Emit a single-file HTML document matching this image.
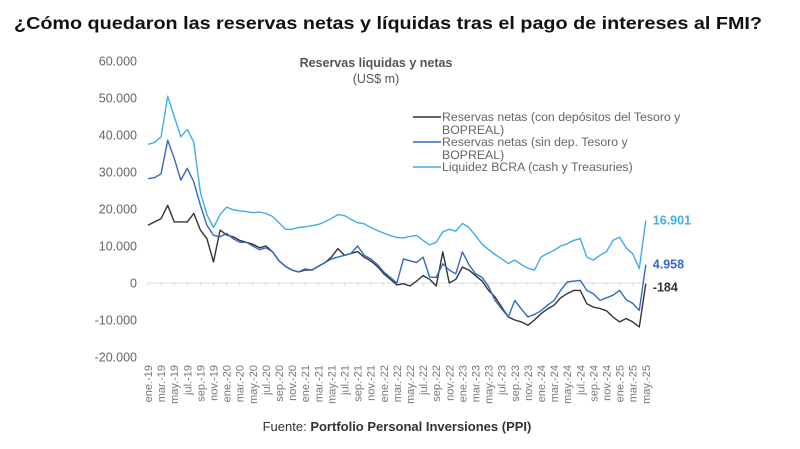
<!DOCTYPE html>
<html><head><meta charset="utf-8"><style>
body{margin:0;background:#fff;width:800px;height:444px;overflow:hidden;font-family:"Liberation Sans",sans-serif}
</style></head><body>
<svg width="800" height="444" xmlns="http://www.w3.org/2000/svg" font-family="Liberation Sans, sans-serif">
<text x="14" y="29" font-size="17.5" font-weight="bold" fill="#111" textLength="748" lengthAdjust="spacingAndGlyphs">¿Cómo quedaron las reservas netas y líquidas tras el pago de intereses al FMI?</text>
<text x="376" y="67" font-size="12.5" font-weight="bold" fill="#555" text-anchor="middle">Reservas liquidas y netas</text>
<text x="376" y="83" font-size="12.5" fill="#555" text-anchor="middle">(US$ m)</text>
<g id="yaxis"></g>
<g id="xaxis"></g>
<g id="series"></g>
<g font-size="12.3" fill="#666">
<line x1="413" y1="117" x2="441" y2="117" stroke="#333" stroke-width="1.5"/>
<text x="442" y="121">Reservas netas (con depósitos del Tesoro y</text>
<text x="442" y="134">BOPREAL)</text>
<line x1="413" y1="142" x2="441" y2="142" stroke="#3569bf" stroke-width="1.5"/>
<text x="442" y="146">Reservas netas (sin dep. Tesoro y</text>
<text x="442" y="159">BOPREAL)</text>
<line x1="413" y1="167" x2="441" y2="167" stroke="#3daeea" stroke-width="1.5"/>
<text x="442" y="171">Liquidez BCRA (cash y Treasuries)</text>
</g>
<text x="397" y="431" font-size="13" fill="#333" text-anchor="middle">Fuente: <tspan font-weight="bold">Portfolio Personal Inversiones (PPI)</tspan></text>
</svg>
<script>
const yTicks=[60000,50000,40000,30000,20000,10000,0,-10000,-20000];
const yTickLabels=["60.000","50.000","40.000","30.000","20.000","10.000","0","-10.000","-20.000"];
const xLabels=[];
const monthsAbbr=["ene.","mar.","may.","jul.","sep.","nov."];
for(let y=19;y<=25;y++)for(let i=0;i<6;i++){if(y===25&&i>2)break;xLabels.push(monthsAbbr[i]+"-"+y);}
const liquidez=[37500,38000,39500,50500,45000,39500,41500,38000,24500,18500,15000,18500,20500,19800,19500,19300,19000,19200,18800,18000,16300,14500,14500,15000,15200,15500,15800,16500,17500,18500,18200,17200,16300,16000,15000,14200,13500,12800,12300,12200,12600,12800,11500,10300,11000,13800,14500,14000,16100,15000,12800,10500,9000,7700,6500,5300,6200,5000,4000,3500,7000,8000,8800,10000,10600,11500,12000,7000,6200,7500,8500,11500,12400,9500,7900,3900,16901];
const netasSin=[28200,28500,29500,38600,33700,27800,31000,27300,21000,15600,12900,12500,13400,12000,11000,11000,10000,9000,9500,8500,6000,4500,3500,3000,3800,3500,4500,5500,6500,7000,7500,8000,10000,7500,6500,5000,3000,1500,0,6500,6000,5500,7000,1600,1500,5200,3500,2500,8400,5000,2500,1500,-1000,-4700,-7000,-9200,-4700,-7000,-9200,-8500,-7500,-6000,-4700,-2000,300,500,700,-2000,-2900,-4700,-4000,-3300,-2000,-4500,-5500,-7400,4958];
const netasCon=[15600,16500,17400,21000,16500,16500,16500,18800,14300,12000,5700,14300,13000,12500,11500,11000,10500,9500,10000,8500,6000,4500,3500,3000,3500,3500,4500,5500,7000,9300,7500,8000,8500,7000,6000,4500,2500,1000,-500,-200,-800,500,2000,1000,-800,8400,0,1000,4300,3500,2000,500,-2000,-3800,-6500,-9200,-10000,-10500,-11400,-10000,-8300,-7000,-6000,-4000,-2900,-2000,-2000,-5600,-6500,-6900,-7500,-9200,-10500,-9600,-10500,-11900,-184];
const endLabels=["16.901","4.958","-184"];
const NS="http://www.w3.org/2000/svg";
const X=m=>148+m*6.55;
const Y=v=>283-v*0.0037;
function mk(t,a,p){const e=document.createElementNS(NS,t);for(const k in a)e.setAttribute(k,a[k]);p.appendChild(e);return e;}
const ya=document.getElementById('yaxis');
yTicks.forEach((v,i)=>{const t=mk('text',{x:137,y:Y(v)+4.5,'font-size':12.5,fill:'#666','text-anchor':'end'},ya);t.textContent=yTickLabels[i];

});
const zl=mk('line',{x1:X(0),x2:X(76),y1:Y(0),y2:Y(0),stroke:'#ddd','stroke-width':1},ya);


const xa=document.getElementById('xaxis');
xLabels.forEach((l,i)=>{const x=X(i*2);
mk('line',{x1:x,x2:x,y1:Y(0),y2:Y(0)+3,stroke:'#ddd'},xa);
const t=mk('text',{x:0,y:0,'font-size':11,fill:'#777','text-anchor':'end',transform:`translate(${x+4},365) rotate(-90)`},xa);t.textContent=l;

});
const sg=document.getElementById('series');
function line(d,c,n){const p=mk('polyline',{points:d.map((v,i)=>X(i).toFixed(1)+','+Y(v).toFixed(1)).join(' '),fill:'none',stroke:c,'stroke-width':1.4,'stroke-linejoin':'round'},sg);

}
line(liquidez,'#3daeea','line-liquidez');
line(netasCon,'#333','line-netas-con-depositos');
line(netasSin,'#3569bf','line-netas-sin-depositos');
const ends=[[liquidez,'#3daeea'],[netasSin,'#3569bf'],[netasCon,'#333']];
const offs=[4,4,8];
ends.forEach((e,i)=>{const d=e[0];const t=mk('text',{x:X(76)+7,y:Y(d[d.length-1])+offs[i],'font-size':12.5,'font-weight':'bold',fill:e[1]},sg);t.textContent=endLabels[i];

});
</script>
</body></html>
